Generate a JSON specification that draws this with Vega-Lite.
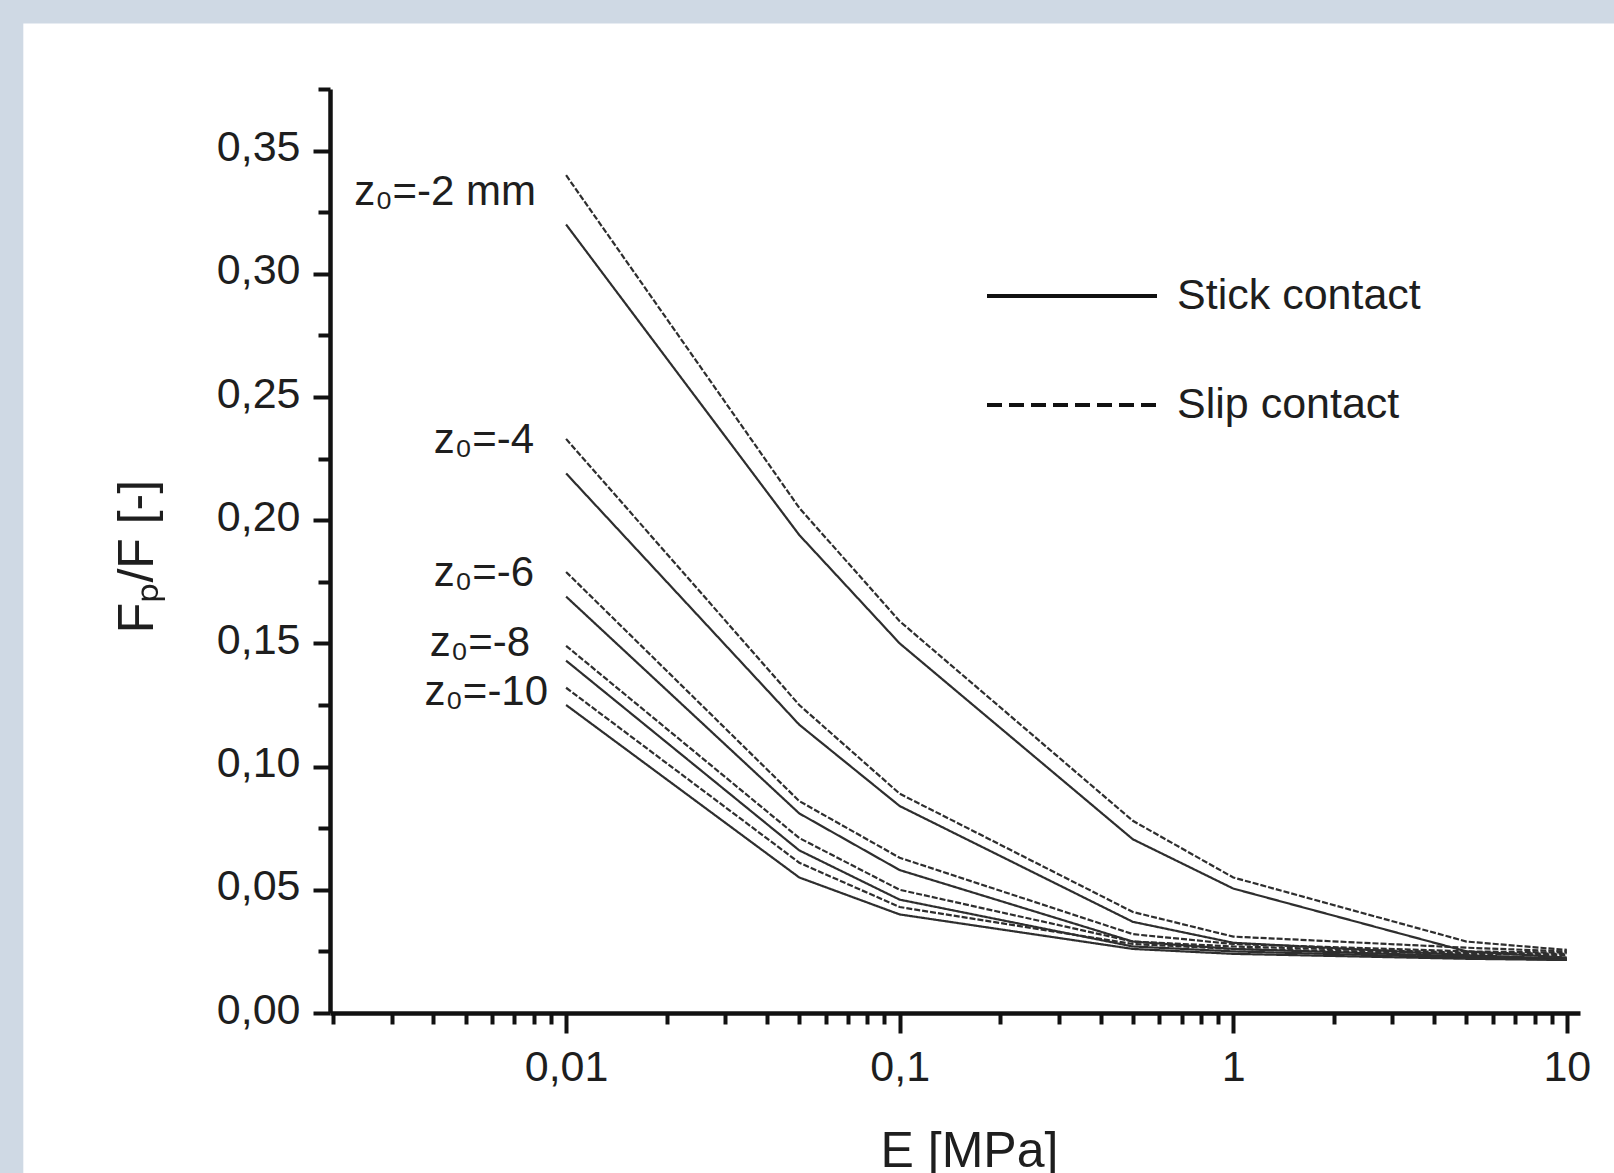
{
  "$schema": "https://vega.github.io/schema/vega-lite/v6.json",
  "autosize": "none",
  "width": 1250,
  "height": 924,
  "padding": {"left": 330, "top": 89, "right": 34, "bottom": 160},
  "background": "#cfd9e4",
  "config": {
    "view": {"stroke": null},
    "font": "Liberation Sans",
    "text": {"font": "Liberation Sans"}
  },
  "datasets": {
    "curves": [
      {"E": 0.01, "F": 0.340, "z0": "-2 mm", "contact": "Slip contact"},
      {"E": 0.05, "F": 0.205, "z0": "-2 mm", "contact": "Slip contact"},
      {"E": 0.1, "F": 0.159, "z0": "-2 mm", "contact": "Slip contact"},
      {"E": 0.5, "F": 0.078, "z0": "-2 mm", "contact": "Slip contact"},
      {"E": 1, "F": 0.055, "z0": "-2 mm", "contact": "Slip contact"},
      {"E": 5, "F": 0.029, "z0": "-2 mm", "contact": "Slip contact"},
      {"E": 10, "F": 0.0256, "z0": "-2 mm", "contact": "Slip contact"},
      {"E": 0.01, "F": 0.320, "z0": "-2 mm", "contact": "Stick contact"},
      {"E": 0.05, "F": 0.194, "z0": "-2 mm", "contact": "Stick contact"},
      {"E": 0.1, "F": 0.150, "z0": "-2 mm", "contact": "Stick contact"},
      {"E": 0.5, "F": 0.0705, "z0": "-2 mm", "contact": "Stick contact"},
      {"E": 1, "F": 0.0505, "z0": "-2 mm", "contact": "Stick contact"},
      {"E": 5, "F": 0.025, "z0": "-2 mm", "contact": "Stick contact"},
      {"E": 10, "F": 0.0225, "z0": "-2 mm", "contact": "Stick contact"},
      {"E": 0.01, "F": 0.233, "z0": "-4", "contact": "Slip contact"},
      {"E": 0.05, "F": 0.125, "z0": "-4", "contact": "Slip contact"},
      {"E": 0.1, "F": 0.089, "z0": "-4", "contact": "Slip contact"},
      {"E": 0.5, "F": 0.041, "z0": "-4", "contact": "Slip contact"},
      {"E": 1, "F": 0.031, "z0": "-4", "contact": "Slip contact"},
      {"E": 5, "F": 0.0265, "z0": "-4", "contact": "Slip contact"},
      {"E": 10, "F": 0.025, "z0": "-4", "contact": "Slip contact"},
      {"E": 0.01, "F": 0.219, "z0": "-4", "contact": "Stick contact"},
      {"E": 0.05, "F": 0.117, "z0": "-4", "contact": "Stick contact"},
      {"E": 0.1, "F": 0.084, "z0": "-4", "contact": "Stick contact"},
      {"E": 0.5, "F": 0.037, "z0": "-4", "contact": "Stick contact"},
      {"E": 1, "F": 0.0285, "z0": "-4", "contact": "Stick contact"},
      {"E": 5, "F": 0.0235, "z0": "-4", "contact": "Stick contact"},
      {"E": 10, "F": 0.022, "z0": "-4", "contact": "Stick contact"},
      {"E": 0.01, "F": 0.179, "z0": "-6", "contact": "Slip contact"},
      {"E": 0.05, "F": 0.086, "z0": "-6", "contact": "Slip contact"},
      {"E": 0.1, "F": 0.063, "z0": "-6", "contact": "Slip contact"},
      {"E": 0.5, "F": 0.032, "z0": "-6", "contact": "Slip contact"},
      {"E": 1, "F": 0.028, "z0": "-6", "contact": "Slip contact"},
      {"E": 5, "F": 0.025, "z0": "-6", "contact": "Slip contact"},
      {"E": 10, "F": 0.0245, "z0": "-6", "contact": "Slip contact"},
      {"E": 0.01, "F": 0.169, "z0": "-6", "contact": "Stick contact"},
      {"E": 0.05, "F": 0.081, "z0": "-6", "contact": "Stick contact"},
      {"E": 0.1, "F": 0.058, "z0": "-6", "contact": "Stick contact"},
      {"E": 0.5, "F": 0.029, "z0": "-6", "contact": "Stick contact"},
      {"E": 1, "F": 0.026, "z0": "-6", "contact": "Stick contact"},
      {"E": 5, "F": 0.023, "z0": "-6", "contact": "Stick contact"},
      {"E": 10, "F": 0.022, "z0": "-6", "contact": "Stick contact"},
      {"E": 0.01, "F": 0.149, "z0": "-8", "contact": "Slip contact"},
      {"E": 0.05, "F": 0.071, "z0": "-8", "contact": "Slip contact"},
      {"E": 0.1, "F": 0.050, "z0": "-8", "contact": "Slip contact"},
      {"E": 0.5, "F": 0.029, "z0": "-8", "contact": "Slip contact"},
      {"E": 1, "F": 0.027, "z0": "-8", "contact": "Slip contact"},
      {"E": 5, "F": 0.0245, "z0": "-8", "contact": "Slip contact"},
      {"E": 10, "F": 0.024, "z0": "-8", "contact": "Slip contact"},
      {"E": 0.01, "F": 0.143, "z0": "-8", "contact": "Stick contact"},
      {"E": 0.05, "F": 0.066, "z0": "-8", "contact": "Stick contact"},
      {"E": 0.1, "F": 0.046, "z0": "-8", "contact": "Stick contact"},
      {"E": 0.5, "F": 0.027, "z0": "-8", "contact": "Stick contact"},
      {"E": 1, "F": 0.025, "z0": "-8", "contact": "Stick contact"},
      {"E": 5, "F": 0.0225, "z0": "-8", "contact": "Stick contact"},
      {"E": 10, "F": 0.0215, "z0": "-8", "contact": "Stick contact"},
      {"E": 0.01, "F": 0.132, "z0": "-10", "contact": "Slip contact"},
      {"E": 0.05, "F": 0.061, "z0": "-10", "contact": "Slip contact"},
      {"E": 0.1, "F": 0.043, "z0": "-10", "contact": "Slip contact"},
      {"E": 0.5, "F": 0.028, "z0": "-10", "contact": "Slip contact"},
      {"E": 1, "F": 0.026, "z0": "-10", "contact": "Slip contact"},
      {"E": 5, "F": 0.024, "z0": "-10", "contact": "Slip contact"},
      {"E": 10, "F": 0.0235, "z0": "-10", "contact": "Slip contact"},
      {"E": 0.01, "F": 0.125, "z0": "-10", "contact": "Stick contact"},
      {"E": 0.05, "F": 0.055, "z0": "-10", "contact": "Stick contact"},
      {"E": 0.1, "F": 0.040, "z0": "-10", "contact": "Stick contact"},
      {"E": 0.5, "F": 0.026, "z0": "-10", "contact": "Stick contact"},
      {"E": 1, "F": 0.024, "z0": "-10", "contact": "Stick contact"},
      {"E": 5, "F": 0.022, "z0": "-10", "contact": "Stick contact"},
      {"E": 10, "F": 0.0215, "z0": "-10", "contact": "Stick contact"}
    ]
  },
  "resolve": {"scale": {"strokeDash": "independent"}},
  "layer": [
    {
      "data": {"values": [{"region": "page"}]},
      "mark": {"type": "rect", "fill": "white", "clip": false},
      "encoding": {
        "x": {"datum": 0.000236, "type": "quantitative", "scale": {"type": "log", "domain": [0.00196, 10.95], "nice": false}},
        "x2": {"datum": 1000},
        "y": {"datum": 0.4016, "type": "quantitative", "scale": {"domain": [0, 0.375], "nice": false, "zero": false}},
        "y2": {"datum": -1}
      }
    },
    {
      "data": {"name": "curves"},
      "mark": {"type": "line", "strokeWidth": 2.2, "color": "#2e2e2e", "clip": false},
      "encoding": {
        "x": {
          "field": "E", "type": "quantitative",
          "scale": {"type": "log", "domain": [0.00196, 10.95], "nice": false},
          "axis": {
            "title": "E [MPa]",
            "values": [0.002, 0.003, 0.004, 0.005, 0.006, 0.007, 0.008, 0.009, 0.01, 0.02, 0.03, 0.04, 0.05, 0.06, 0.07, 0.08, 0.09, 0.1, 0.2, 0.3, 0.4, 0.5, 0.6, 0.7, 0.8, 0.9, 1, 2, 3, 4, 5, 6, 7, 8, 9, 10],
            "labelExpr": "indexof([0.01, 0.1, 1, 10], datum.value) >= 0 ? replace(format(datum.value, '~g'), '.', ',') : ''",
            "tickSize": {"condition": {"test": "indexof([0.01, 0.1, 1, 10], datum.value) >= 0", "value": 20}, "value": 11},
            "grid": false,
            "domainColor": "#111", "domainWidth": 4.5,
            "tickColor": "#111", "tickWidth": 4,
            "labelFont": "Liberation Sans", "labelFontSize": 43, "labelColor": "#1e1e1e",
            "labelPadding": 13, "labelOverlap": false, "labelFlush": false,
            "titleFont": "Liberation Sans", "titleFontSize": 50, "titleFontWeight": "normal", "titleColor": "#1e1e1e",
            "titleX": 639, "titleY": 153, "titleBaseline": "alphabetic", "titleAlign": "center",
            "zindex": 1
          }
        },
        "y": {
          "field": "F", "type": "quantitative",
          "scale": {"domain": [0, 0.375], "nice": false, "zero": false},
          "axis": {
            "title": "Fₚ/F [-]",
            "values": [0, 0.025, 0.05, 0.075, 0.1, 0.125, 0.15, 0.175, 0.2, 0.225, 0.25, 0.275, 0.3, 0.325, 0.35, 0.375],
            "labelExpr": "round(datum.value * 1000) % 50 == 0 ? replace(format(datum.value, '.2f'), '.', ',') : ''",
            "tickSize": {"condition": {"test": "round(datum.value * 1000) % 50 == 0", "value": 17}, "value": 12},
            "grid": false,
            "domainColor": "#111", "domainWidth": 4.5,
            "tickColor": "#111", "tickWidth": 4,
            "labelFont": "Liberation Sans", "labelFontSize": 43, "labelColor": "#1e1e1e",
            "labelPadding": 13, "labelOverlap": false, "labelFlush": false, "labelOffset": -3,
            "titleFont": "Liberation Sans", "titleFontSize": 50, "titleFontWeight": "normal", "titleColor": "#1e1e1e",
            "titleAngle": 270, "titleX": -178, "titleY": 467, "titleBaseline": "alphabetic", "titleAlign": "center",
            "zindex": 1
          }
        },
        "detail": {"field": "z0"},
        "strokeDash": {
          "field": "contact", "type": "nominal",
          "scale": {"domain": ["Stick contact", "Slip contact"], "range": [[1, 0], [6, 2]]},
          "legend": null
        }
      }
    },
    {
      "data": {"name": "curves"},
      "mark": {"type": "line", "strokeWidth": 0, "color": "#111", "clip": false},
      "encoding": {
        "x": {"field": "E", "type": "quantitative", "scale": {"type": "log", "domain": [0.00196, 10.95], "nice": false}},
        "y": {"field": "F", "type": "quantitative", "scale": {"domain": [0, 0.375], "nice": false, "zero": false}},
        "detail": {"field": "z0"},
        "strokeDash": {
          "field": "contact", "type": "nominal",
          "scale": {"domain": ["Stick contact", "Slip contact"], "range": [[1, 0], [15, 7]]},
          "legend": {
            "title": null,
            "orient": "none",
            "legendX": 655,
            "legendY": 120,
            "padding": 0,
            "symbolType": "stroke",
            "symbolSize": 28900,
            "symbolStrokeWidth": 4,
            "symbolStrokeColor": "#111",
            "symbolOpacity": 1,
            "labelFont": "Liberation Sans",
            "labelFontSize": 43,
            "labelColor": "#1e1e1e",
            "labelLimit": 0,
            "labelOffset": 18,
            "rowPadding": -76
          }
        }
      }
    },
    {
      "data": {"name": "curves"},
      "transform": [
        {"filter": "datum.E == 0.01 && datum.contact == 'Slip contact' && datum.z0 == '-2 mm'"},
        {"calculate": "'z₀=' + datum.z0", "as": "label"}
      ],
      "mark": {"type": "text", "align": "right", "baseline": "middle", "dx": -30, "dy": 17, "fontSize": 42, "font": "Liberation Sans", "color": "#1e1e1e"},
      "encoding": {
        "x": {"field": "E", "type": "quantitative", "scale": {"type": "log", "domain": [0.00196, 10.95], "nice": false}},
        "y": {"field": "F", "type": "quantitative", "scale": {"domain": [0, 0.375], "nice": false, "zero": false}},
        "text": {"field": "label"}
      }
    },
    {
      "data": {"name": "curves"},
      "transform": [
        {"filter": "datum.E == 0.01 && datum.contact == 'Slip contact' && (datum.z0 == '-4' || datum.z0 == '-6')"},
        {"calculate": "'z₀=' + datum.z0", "as": "label"}
      ],
      "mark": {"type": "text", "align": "right", "baseline": "middle", "dx": -32, "dy": 1, "fontSize": 42, "font": "Liberation Sans", "color": "#1e1e1e"},
      "encoding": {
        "x": {"field": "E", "type": "quantitative", "scale": {"type": "log", "domain": [0.00196, 10.95], "nice": false}},
        "y": {"field": "F", "type": "quantitative", "scale": {"domain": [0, 0.375], "nice": false, "zero": false}},
        "text": {"field": "label"}
      }
    },
    {
      "data": {"name": "curves"},
      "transform": [
        {"filter": "datum.E == 0.01 && datum.contact == 'Slip contact' && datum.z0 == '-8'"},
        {"calculate": "'z₀=' + datum.z0", "as": "label"}
      ],
      "mark": {"type": "text", "align": "right", "baseline": "middle", "dx": -36, "dy": -3, "fontSize": 42, "font": "Liberation Sans", "color": "#1e1e1e"},
      "encoding": {
        "x": {"field": "E", "type": "quantitative", "scale": {"type": "log", "domain": [0.00196, 10.95], "nice": false}},
        "y": {"field": "F", "type": "quantitative", "scale": {"domain": [0, 0.375], "nice": false, "zero": false}},
        "text": {"field": "label"}
      }
    },
    {
      "data": {"name": "curves"},
      "transform": [
        {"filter": "datum.E == 0.01 && datum.contact == 'Slip contact' && datum.z0 == '-10'"},
        {"calculate": "'z₀=' + datum.z0", "as": "label"}
      ],
      "mark": {"type": "text", "align": "right", "baseline": "middle", "dx": -18, "dy": 4, "fontSize": 42, "font": "Liberation Sans", "color": "#1e1e1e"},
      "encoding": {
        "x": {"field": "E", "type": "quantitative", "scale": {"type": "log", "domain": [0.00196, 10.95], "nice": false}},
        "y": {"field": "F", "type": "quantitative", "scale": {"domain": [0, 0.375], "nice": false, "zero": false}},
        "text": {"field": "label"}
      }
    }
  ]
}
